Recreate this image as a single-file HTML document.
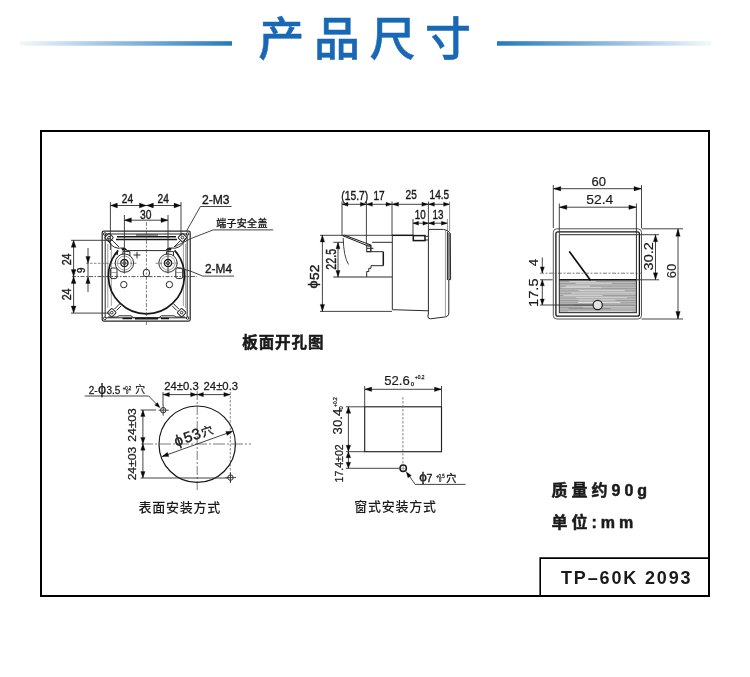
<!DOCTYPE html>
<html lang="zh-CN"><head><meta charset="utf-8"><title>产品尺寸</title>
<style>
html,body{margin:0;padding:0;background:#fff;}
body{width:750px;height:677px;overflow:hidden;position:relative;font-family:"Liberation Sans","Noto Sans CJK SC",sans-serif;}
svg{position:absolute;left:0;top:0;display:block;will-change:transform;}
svg text{font-family:"Liberation Sans","Noto Sans CJK SC",sans-serif;fill:#1a1a1a;}
.n{stroke:#1a1a1a;stroke-width:0.4px;}
.m{fill:none;stroke:#2a2a2a;stroke-width:1;}
.h{fill:none;stroke:#161616;stroke-width:1.5;}
.c2{fill:none;stroke:#2a2a2a;stroke-width:0.8;stroke-dasharray:4 1.5 1.5 1.5;}
.mb{fill:none;stroke:#1a1a1a;stroke-width:1.4;}
.d{fill:none;stroke:#303030;stroke-width:0.9;}
.c{fill:none;stroke:#444;stroke-width:0.7;stroke-dasharray:4 1.5 2 1.5;}
.d2{fill:none;stroke:#777;stroke-width:0.8;}
.dash{fill:none;stroke:#555;stroke-width:0.7;stroke-dasharray:2.5 1.5;}
.a{fill:#0a0a0a;stroke:#0a0a0a;stroke-width:0.3;stroke-linejoin:miter;}
.g{fill:none;stroke:#777;stroke-width:0.7;}
.b{font-weight:700;}
.l2{stroke:#1a1a1a;stroke-width:0.18px;}
.l{stroke:#1a1a1a;stroke-width:0.25px;}
</style></head><body>
<svg width="750" height="677" viewBox="0 0 750 677">
<defs>
<linearGradient id="gl" x1="0" y1="0" x2="1" y2="0"><stop offset="0" stop-color="#f3f8fc"/><stop offset="1" stop-color="#2378c2"/></linearGradient>
<linearGradient id="gr" x1="0" y1="0" x2="1" y2="0"><stop offset="0" stop-color="#2378c2"/><stop offset="1" stop-color="#f3f8fc"/></linearGradient>
<pattern id="hatch" width="4" height="2.4" patternUnits="userSpaceOnUse"><rect width="4" height="2.4" fill="#bcbcbc"/><rect y="0" width="4" height="1" fill="#989898"/></pattern>
</defs>
<rect class="x" x="20" y="41.2" width="212" height="4.5" fill="url(#gl)"/>
<rect class="x" x="497" y="41.2" width="214" height="4.5" fill="url(#gr)"/>
<text x="258.3" y="55" font-size="46" font-weight="500" letter-spacing="9.6" style="fill:#1868b6;stroke:#1868b6;stroke-width:0.5px">产品尺寸</text>
<rect class="x" x="41" y="131" width="668" height="465" fill="none" stroke="#000" stroke-width="2"/>
<path class="x" d="M540.2 596V558.1H709" fill="none" stroke="#000" stroke-width="1.6"/>
<text x="561" y="584.2" font-size="18" font-weight="700" letter-spacing="1.85">TP–60K 2093</text>
<text x="551.5" y="496" font-size="16" font-weight="700" letter-spacing="4" style="stroke:#1a1a1a;stroke-width:0.5px">质量约90g</text>
<text x="551.5" y="528" font-size="16" font-weight="700" letter-spacing="4" style="stroke:#1a1a1a;stroke-width:0.5px">单位:mm</text>
<text x="242.2" y="347.6" font-size="15.5" font-weight="700" letter-spacing="0.95" style="stroke:#111;stroke-width:0.45px">板面开孔图</text>
<text x="138.4" y="512.2" font-size="13" font-weight="500" letter-spacing="0.75">表面安装方式</text>
<text x="354.2" y="511" font-size="13" font-weight="500" letter-spacing="0.75">窗式安装方式</text>
<rect class="h" x="102.2" y="231.2" width="88" height="89.8" rx="1.5" style="stroke-width:1.25;stroke:#2a2a2a"/>
<rect class="m" x="105.2" y="234" width="82" height="83.8" rx="1"/>
<line class="g" x1="111.3" y1="243" x2="111.3" y2="306"/>
<line class="g" x1="183.4" y1="243" x2="183.4" y2="306"/>
<line class="g" x1="107.8" y1="244" x2="107.8" y2="308"/>
<line class="g" x1="185.6" y1="244" x2="185.6" y2="308"/>
<circle class="m" cx="104.8" cy="234" r="1.3"/>
<circle class="m" cx="187.6" cy="234" r="1.3"/>
<circle class="m" cx="104.8" cy="318.4" r="1.3"/>
<circle class="m" cx="187.6" cy="318" r="1.3"/>
<path class="h" d="M118.2 250.4 A38 38 0 1 0 174.6 250.4" style="stroke-width:1.7"/>
<path class="h" d="M117 236.8 H176 M116 239.4 H177"/>
<path class="m" d="M136 235 H158"/>
<path class="m" d="M107.5 238 Q110 247 118 248.2 L121 248 Q124.4 247 127 250.6 H166 Q168.5 247 172 248 L175 248.2 Q183 247 185.5 238"/>
<path class="m" d="M112 240 L119 247 M181 240 L174 247"/>
<path class="x" d="M121.5 248.3 Q124.4 246.5 127.5 250.2 L122 250.5 Z M171.5 248.3 Q168.4 246.5 165.3 250.2 L171 250.5 Z" fill="#1a1a1a"/>
<path class="x" d="M114.5 254 L117.8 251 L118 255 Z" fill="#1a1a1a"/>
<rect class="m" x="105.8" y="234.4" width="6.4" height="6.4" rx="1" transform="rotate(45 109 237.6)"/>
<circle class="m" cx="109" cy="237.6" r="1.3"/>
<rect class="m" x="179.2" y="234.4" width="6.4" height="6.4" rx="1" transform="rotate(45 182.4 237.6)"/>
<circle class="m" cx="182.4" cy="237.6" r="1.3"/>
<rect class="m" x="108.6" y="309.4" width="6.4" height="6.4" rx="1" transform="rotate(45 111.8 312.6)"/>
<circle class="m" cx="111.8" cy="312.6" r="1.3"/>
<rect class="m" x="178.4" y="309.4" width="6.4" height="6.4" rx="1" transform="rotate(45 181.6 312.6)"/>
<circle class="m" cx="181.6" cy="312.6" r="1.3"/>
<path class="m" d="M114.5 309 L119.5 304 M116.5 310.5 L121 306 M178.8 309 L173.8 304 M176.8 310.5 L172.3 306"/>
<path class="m" d="M108 317 H117 L119 315.8 H131 L133.5 317.6 H159 L161.5 315.8 H174 L176 317 H185"/>
<path class="h" d="M122.5 318.4 H132 M135 318.8 H158 M161 318.4 H169"/>
<circle class="m" cx="124.4" cy="263.1" r="9.2"/>
<circle class="g" cx="124.4" cy="263.1" r="7"/>
<circle class="h" cx="124.4" cy="263.1" r="3.6" style="stroke-width:1.3"/>
<circle class="m" cx="124.4" cy="263.1" r="1.5"/>
<path class="m" d="M122.9 254.3 V251.6 H129.9 V256"/>
<line class="d" x1="124.4" y1="250" x2="124.4" y2="273.5"/>
<circle class="m" cx="168" cy="263.1" r="9.2"/>
<circle class="g" cx="168" cy="263.1" r="7"/>
<circle class="h" cx="168" cy="263.1" r="3.6" style="stroke-width:1.3"/>
<circle class="m" cx="168" cy="263.1" r="1.5"/>
<path class="m" d="M166.5 254.3 V251.6 H173.5 V256"/>
<line class="d" x1="168" y1="250" x2="168" y2="273.5"/>
<path class="m" d="M133.5 255 H140.5 M137 251.8 V258.4"/>
<ellipse class="m" cx="146.4" cy="273" rx="3.2" ry="3.9"/>
<circle class="m" cx="123.8" cy="284.6" r="3.2"/>
<circle class="m" cx="169.4" cy="284.6" r="3.2"/>
<rect class="m" x="110.4" y="268" width="6.6" height="10.6" rx="1.8"/>
<rect class="m" x="175.8" y="268" width="6.8" height="10.6" rx="1.8"/>
<line class="g" x1="110.4" y1="272.5" x2="117" y2="272.5"/>
<line class="g" x1="175.8" y1="272.5" x2="182.6" y2="272.5"/>
<line class="c" x1="146.4" y1="222" x2="146.4" y2="325"/>
<line class="c2" x1="72" y1="276.6" x2="197" y2="276.6"/>
<line class="dash" x1="86" y1="263.3" x2="137" y2="263.3"/>
<line class="dash" x1="155.5" y1="263.3" x2="178" y2="263.3"/>
<line class="d" x1="110.4" y1="205.5" x2="146.4" y2="205.5"/>
<polygon class="a" points="110.4,205.5 117.4,203.09 117.4,207.91"/>
<polygon class="a" points="146.4,205.5 139.4,207.91 139.4,203.09"/>
<line class="d" x1="146.4" y1="205.5" x2="181" y2="205.5"/>
<polygon class="a" points="146.4,205.5 153.4,203.09 153.4,207.91"/>
<polygon class="a" points="181,205.5 174,207.91 174,203.09"/>
<line class="d" x1="110.4" y1="202" x2="110.4" y2="250"/>
<line class="d" x1="181" y1="202" x2="181" y2="236"/>
<line class="d" x1="124.4" y1="220.2" x2="168" y2="220.2"/>
<polygon class="a" points="124.4,220.2 131.4,217.78 131.4,222.61"/>
<polygon class="a" points="168,220.2 161,222.61 161,217.78"/>
<line class="d" x1="124.4" y1="215" x2="124.4" y2="252"/>
<line class="d" x1="168" y1="215" x2="168" y2="252"/>
<text class="n" transform="translate(127.5 203.1) scale(0.81 1)" font-size="12.6" text-anchor="middle">24</text>
<text class="n" transform="translate(163.2 203.1) scale(0.81 1)" font-size="12.6" text-anchor="middle">24</text>
<text class="n" transform="translate(145.7 218.8) scale(0.76 1)" font-size="13.6" text-anchor="middle">30</text>
<line class="d" x1="73.6" y1="240.3" x2="73.6" y2="276.6"/>
<polygon class="a" points="73.6,240.3 76.02,247.3 71.18,247.3"/>
<polygon class="a" points="73.6,276.6 71.18,269.6 76.02,269.6"/>
<line class="d" x1="73.6" y1="276.6" x2="73.6" y2="313.1"/>
<polygon class="a" points="73.6,276.6 76.02,283.6 71.18,283.6"/>
<polygon class="a" points="73.6,313.1 71.18,306.1 76.02,306.1"/>
<line class="d" x1="71" y1="240.3" x2="112" y2="240.3"/>
<line class="d" x1="71" y1="313.1" x2="110" y2="313.1"/>
<text class="n" transform="translate(71.1 259.4) rotate(-90) scale(0.85 1)" font-size="12.6" text-anchor="middle">24</text>
<text class="n" transform="translate(71.1 294.4) rotate(-90) scale(0.85 1)" font-size="12.6" text-anchor="middle">24</text>
<line class="d" x1="88" y1="248" x2="88" y2="292"/>
<polygon class="a" points="88,263.3 85.81,256.5 90.19,256.5"/>
<polygon class="a" points="88,276.6 90.19,283.4 85.81,283.4"/>
<text class="n" transform="translate(85.2 270.3) rotate(-90) scale(0.85 1)" font-size="11.5" text-anchor="middle">9</text>
<path class="d" d="M186.5 231 L200.4 206.5 H231.6"/>
<path class="d" d="M175 246.6 L190.8 238.6 L213.2 229.9 H273.2"/>
<path class="d" d="M177 267.5 Q190 270 202.8 276.1 H234"/>
<text class="n" transform="translate(201.9 204) scale(0.9 1)" font-size="13.5" text-anchor="start">2-M3</text>
<text class="n" transform="translate(205 273) scale(0.88 1)" font-size="13.5" text-anchor="start">2-M4</text>
<text class="l" transform="translate(216.2 227.2)" font-size="10" text-anchor="start" letter-spacing="0.3" font-weight="500">端子安全盖</text>
<line class="d" x1="342" y1="204.3" x2="366.4" y2="204.3"/>
<polygon class="a" points="342,204.3 348,202.23 348,206.37"/>
<polygon class="a" points="366.4,204.3 360.4,206.37 360.4,202.23"/>
<line class="d" x1="366.4" y1="204.3" x2="392" y2="204.3"/>
<polygon class="a" points="366.4,204.3 372.4,202.23 372.4,206.37"/>
<polygon class="a" points="392,204.3 386,206.37 386,202.23"/>
<line class="d" x1="392" y1="204.3" x2="428.4" y2="204.3"/>
<polygon class="a" points="392,204.3 398.5,202.23 398.5,206.37"/>
<polygon class="a" points="428.4,204.3 421.9,206.37 421.9,202.23"/>
<line class="d" x1="428.4" y1="204.3" x2="449.6" y2="204.3"/>
<polygon class="a" points="428.4,204.3 434.4,202.23 434.4,206.37"/>
<polygon class="a" points="449.6,204.3 443.6,206.37 443.6,202.23"/>
<line class="d" x1="413" y1="223.2" x2="428.4" y2="223.2"/>
<polygon class="a" points="413,223.2 418.5,221.24 418.5,225.16"/>
<polygon class="a" points="428.4,223.2 422.9,225.16 422.9,221.24"/>
<line class="d" x1="428.4" y1="223.2" x2="447.4" y2="223.2"/>
<polygon class="a" points="428.4,223.2 434.4,221.24 434.4,225.16"/>
<polygon class="a" points="447.4,223.2 441.4,225.16 441.4,221.24"/>
<line class="d" x1="342" y1="201.5" x2="342" y2="236"/>
<line class="d" x1="366.4" y1="201.5" x2="366.4" y2="246"/>
<line class="d" x1="392" y1="201.5" x2="392" y2="236"/>
<line class="d" x1="428.4" y1="201.5" x2="428.4" y2="230"/>
<line class="d2" x1="449.6" y1="201.5" x2="449.6" y2="231"/>
<line class="d" x1="413" y1="219" x2="413" y2="236"/>
<line class="d2" x1="447.4" y1="219" x2="447.4" y2="231"/>
<text class="n" transform="translate(354.7 199.6) scale(0.82 1)" font-size="12.6" text-anchor="middle">(15.7)</text>
<text class="n" transform="translate(379 199.6) scale(0.8 1)" font-size="12.6" text-anchor="middle">17</text>
<text class="n" transform="translate(411.2 199.4) scale(0.8 1)" font-size="12.6" text-anchor="middle">25</text>
<text class="n" transform="translate(439.4 199.4) scale(0.8 1)" font-size="12.6" text-anchor="middle">14.5</text>
<text class="n" transform="translate(420.2 219.3) scale(0.78 1)" font-size="12.6" text-anchor="middle">10</text>
<text class="n" transform="translate(438 219.3) scale(0.78 1)" font-size="12.6" text-anchor="middle">13</text>
<line class="d" x1="320" y1="235.3" x2="392" y2="235.3"/>
<line class="h" x1="392" y1="235.3" x2="413" y2="235.3"/>
<line class="d" x1="320" y1="311.4" x2="392" y2="311.4"/>
<path class="m" d="M392.3 235 V309.7 L428.4 310.8"/>
<rect class="h" x="413.3" y="235.6" width="11.7" height="5"/>
<path class="m" d="M425 236.3 H428 M425 240 H428"/>
<path class="x" d="M447.4 233 H450.4 V279.6 H447.4 Z" fill="#8a8a8a"/>
<path class="m" d="M428.4 231 Q428.4 229.4 430 229.4 L443.6 229.4 Q448.5 230 450.3 233.5 L450.6 279.6 H448.8 V314 Q448 316.5 445.4 316.9 L430.5 318.8 Q428 318.8 428 317 V314.4 H428.4 Z"/>
<line class="g" x1="445.4" y1="230" x2="445.4" y2="316.8"/>
<line class="m" x1="447.4" y1="231.5" x2="447.4" y2="280"/>
<path class="x" d="M342.7 235.7 L369.5 246.5 L370.3 244.8 L344.5 235.2 Z" fill="#fff" stroke="#1a1a1a" stroke-width="1"/>
<path class="m" d="M372 242.3 H392 M366.7 251.7 H383.3 M383.3 265.7 H371 V268.3 H368.8 V271.5 H366.7 V277"/>
<line class="h" x1="383.3" y1="251.7" x2="383.3" y2="265.7"/>
<rect class="m" x="366.7" y="245" width="4" height="6.7"/>
<path class="m" d="M367 248.3 H373.5 M371 245 V251.5"/>
<path class="d" d="M343.2 238 Q343.5 256 348.5 264.5"/>
<line class="d" x1="322.4" y1="235" x2="322.4" y2="311.4"/>
<polygon class="a" points="322.4,235 324.58,242 320.21,242"/>
<polygon class="a" points="322.4,311.4 320.21,304.4 324.58,304.4"/>
<text class="n" transform="translate(319 279.9) rotate(-90) scale(1.08 1)" font-size="12.6" text-anchor="start">52</text>
<text class="n" transform="translate(316.6 288.4) rotate(-90) scale(1.12 1)" font-size="12.8" text-anchor="start">ϕ</text>
<line class="d" x1="333.3" y1="242.3" x2="344" y2="242.3"/>
<line class="m" x1="333.3" y1="277" x2="392" y2="277"/>
<line class="d" x1="338" y1="242.3" x2="338" y2="277"/>
<polygon class="a" points="338,242.3 340.07,248.8 335.93,248.8"/>
<polygon class="a" points="338,277 335.93,270.5 340.07,270.5"/>
<text class="n" transform="translate(335.8 259.3) rotate(-90) scale(0.76 1)" font-size="14" text-anchor="middle">22.5</text>
<rect class="m" x="553.3" y="228.8" width="88.2" height="90.2" rx="3.5" style="stroke:#555"/>
<rect class="h" x="555.9" y="231.8" width="83.5" height="84.4" rx="2" style="stroke-width:1.3"/>
<rect class="x" x="559.3" y="279.8" width="77.1" height="33" fill="url(#hatch)"/>
<rect x="569.21" y="281.2" width="26.79" height="0.9" fill="#dadada"/>
<rect x="575.58" y="282.81" width="36.46" height="0.9" fill="#dadada"/>
<rect x="565.94" y="285.67" width="23.87" height="0.9" fill="#e4e4e4"/>
<rect x="562.22" y="287.28" width="39.1" height="0.9" fill="#dadada"/>
<rect x="578.42" y="290.2" width="46.23" height="0.9" fill="#dadada"/>
<rect x="571.4" y="292.56" width="63.93" height="0.9" fill="#dadada"/>
<rect x="563.5" y="294.9" width="38.86" height="0.9" fill="#dadada"/>
<rect x="576.31" y="297.26" width="50.69" height="0.9" fill="#dadada"/>
<rect x="578.67" y="299.63" width="36.76" height="0.9" fill="#dadada"/>
<rect x="578.07" y="301.98" width="42.34" height="0.9" fill="#e4e4e4"/>
<rect x="573.47" y="304.64" width="61.55" height="0.9" fill="#8a8a8a"/>
<rect x="583.33" y="306.59" width="51.45" height="0.9" fill="#d0d0d0"/>
<rect x="568.51" y="308.21" width="42.28" height="0.9" fill="#8a8a8a"/>
<rect x="568.14" y="310.81" width="64.11" height="0.9" fill="#dadada"/>
<rect class="m" x="559.3" y="234.7" width="77.1" height="78"/>
<line class="h" x1="559.3" y1="279.8" x2="636.4" y2="279.8"/>
<line class="x" x1="569.7" y1="252" x2="590.1" y2="279.8" stroke="#111" stroke-width="1.7" stroke-linecap="round"/>
<circle class="x" cx="597.7" cy="305" r="4.6" fill="#e4e4e4" stroke="#222" stroke-width="1.2"/>
<line class="c" x1="540" y1="273.2" x2="641" y2="273.2"/>
<line class="d" x1="553.3" y1="188.7" x2="641.5" y2="188.7"/>
<polygon class="a" points="553.3,188.7 560.8,186.51 560.8,190.88"/>
<polygon class="a" points="641.5,188.7 634,190.88 634,186.51"/>
<line class="d" x1="553.3" y1="185" x2="553.3" y2="228"/>
<line class="d" x1="641.5" y1="185" x2="641.5" y2="228"/>
<line class="d" x1="559.3" y1="207.2" x2="636.4" y2="207.2"/>
<polygon class="a" points="559.3,207.2 566.8,205.01 566.8,209.38"/>
<polygon class="a" points="636.4,207.2 628.9,209.38 628.9,205.01"/>
<line class="d" x1="559.3" y1="203.5" x2="559.3" y2="234"/>
<line class="d" x1="636.4" y1="203.5" x2="636.4" y2="234"/>
<text class="l2" transform="translate(598.8 186.2) scale(1.03 1)" font-size="12.6" text-anchor="middle">60</text>
<text class="l2" transform="translate(599.7 204) scale(1.1 1)" font-size="12.6" text-anchor="middle">52.4</text>
<line class="d" x1="678" y1="228.8" x2="678" y2="319"/>
<polygon class="a" points="678,228.8 680.18,236.3 675.82,236.3"/>
<polygon class="a" points="678,319 675.82,311.5 680.18,311.5"/>
<line class="d" x1="641.5" y1="228.8" x2="683" y2="228.8"/>
<line class="d" x1="641.5" y1="319" x2="683" y2="319"/>
<text class="l2" transform="translate(675.8 271) rotate(-90) scale(1.02 1)" font-size="12.6" text-anchor="middle">60</text>
<line class="d" x1="655.5" y1="234.7" x2="655.5" y2="279.8"/>
<polygon class="a" points="655.5,234.7 657.68,241.7 653.32,241.7"/>
<polygon class="a" points="655.5,279.8 653.32,272.8 657.68,272.8"/>
<line class="d" x1="636.4" y1="234.7" x2="659" y2="234.7"/>
<line class="d" x1="636.4" y1="279.8" x2="659" y2="279.8"/>
<text class="l2" transform="translate(652.8 256.3) rotate(-90) scale(1.15 1)" font-size="12.6" text-anchor="middle">30.2</text>
<line class="d" x1="542.3" y1="257.5" x2="542.3" y2="272.9"/>
<polygon class="a" points="542.3,272.9 540.23,266.9 544.37,266.9"/>
<line class="d" x1="542.3" y1="279.8" x2="542.3" y2="305"/>
<polygon class="a" points="542.3,279.8 544.37,285.8 540.23,285.8"/>
<polygon class="a" points="542.3,305 540.23,299 544.37,299"/>
<line class="d" x1="540" y1="279.8" x2="552.5" y2="279.8"/>
<line class="d" x1="540" y1="305" x2="593" y2="305"/>
<text class="l2" transform="translate(537.5 262.6) rotate(-90) scale(1.05 1)" font-size="12.6" text-anchor="middle">4</text>
<text class="l2" transform="translate(537.5 292.7) rotate(-90) scale(1.16 1)" font-size="12.6" text-anchor="middle">17.5</text>
<circle class="h" cx="197.2" cy="444.2" r="38.2" style="stroke-width:1.2"/>
<line class="c" x1="197.2" y1="391" x2="197.2" y2="490" style="stroke-dasharray:9 2 2 2"/>
<line class="c" x1="141" y1="444" x2="251" y2="444" style="stroke-dasharray:12 2 2 2"/>
<line class="d" x1="163" y1="394.6" x2="197" y2="394.6"/>
<polygon class="a" points="163,394.6 169.4,392.42 169.4,396.79"/>
<polygon class="a" points="197,394.6 190.6,396.79 190.6,392.42"/>
<line class="d" x1="197" y1="394.6" x2="230.3" y2="394.6"/>
<polygon class="a" points="197,394.6 203.4,392.42 203.4,396.79"/>
<polygon class="a" points="230.3,394.6 223.9,396.79 223.9,392.42"/>
<line class="d" x1="163" y1="392" x2="163" y2="405"/>
<line class="dash" x1="230.3" y1="392" x2="230.3" y2="483"/>
<circle class="m" cx="163.2" cy="410.2" r="2.7"/>
<line class="d" x1="158.5" y1="410.2" x2="168.7" y2="410.2"/>
<line class="d" x1="163.2" y1="405" x2="163.2" y2="415.7"/>
<circle class="m" cx="230.5" cy="477.6" r="2.7"/>
<line class="d" x1="225.5" y1="477.6" x2="236" y2="477.6"/>
<line class="d" x1="230.5" y1="472.5" x2="230.5" y2="483"/>
<line class="d" x1="142.9" y1="410" x2="142.9" y2="443.8"/>
<polygon class="a" points="142.9,410 145.09,416.4 140.72,416.4"/>
<polygon class="a" points="142.9,443.8 140.72,437.4 145.09,437.4"/>
<line class="d" x1="142.9" y1="443.8" x2="142.9" y2="478"/>
<polygon class="a" points="142.9,443.8 145.09,450.2 140.72,450.2"/>
<polygon class="a" points="142.9,478 140.72,471.6 145.09,471.6"/>
<line class="d" x1="140.5" y1="410" x2="156" y2="410"/>
<line class="d" x1="140.5" y1="478" x2="228" y2="478"/>
<path class="d" d="M84.7 396 H148.7 L159 406.7"/>
<polygon class="a" points="160,407.7 154.73,405.19 157.49,402.43"/>
<text class="l" transform="translate(88.7 393.8) scale(0.95 1)" font-size="10.5" text-anchor="start">2-</text>
<text class="l" transform="translate(98.1 393.6)" font-size="14.5" text-anchor="start">ϕ</text>
<text class="l" transform="translate(106.5 393.8) scale(0.95 1)" font-size="10.5" text-anchor="start">3.5</text>
<text class="l" transform="translate(122.7 389.8) scale(0.95 1)" font-size="4.6" text-anchor="start">+0.2</text>
<text class="l" transform="translate(126 394) scale(0.9 1)" font-size="4.6" text-anchor="start">0</text>
<text class="l" transform="translate(135.2 393.2)" font-size="9.8" text-anchor="start">穴</text>
<text class="l" transform="translate(181.4 390.4) scale(1.03 1)" font-size="11" text-anchor="middle">24±0.3</text>
<text class="l" transform="translate(220.8 390.4) scale(1.03 1)" font-size="11" text-anchor="middle">24±0.3</text>
<text class="l" transform="translate(135.7 425) rotate(-90) scale(1.1 1)" font-size="11" text-anchor="middle">24±03</text>
<text class="l" transform="translate(135.7 463.6) rotate(-90) scale(1.1 1)" font-size="11" text-anchor="middle">24±03</text>
<line class="d" x1="162" y1="456.6" x2="232.6" y2="431.3"/>
<polygon class="a" points="162,456.6 167.38,452.35 168.86,456.47"/>
<polygon class="a" points="232.6,431.3 227.22,435.55 225.74,431.43"/>
<text class="n" transform="translate(195.2 439.8) rotate(-19.7)" font-size="15" text-anchor="middle" letter-spacing="0.3"><tspan font-size="15">ϕ</tspan><tspan dx="1.4">53</tspan><tspan font-size="11.5" dx="1">穴</tspan></text>
<rect class="mb" x="364.7" y="406.8" width="76.8" height="44.9" style="stroke-width:1.15;stroke:#222"/>
<line class="d" x1="364.7" y1="389.3" x2="441.5" y2="389.3"/>
<polygon class="a" points="364.7,389.3 371.7,387.12 371.7,391.49"/>
<polygon class="a" points="441.5,389.3 434.5,391.49 434.5,387.12"/>
<line class="d" x1="364.7" y1="386" x2="364.7" y2="407"/>
<line class="d" x1="441.5" y1="386" x2="441.5" y2="407"/>
<line class="dash" x1="402.9" y1="397" x2="402.9" y2="464"/>
<circle class="mb" cx="403.2" cy="468.3" r="3.2" style="stroke-width:1.5"/>
<line class="g" x1="401" y1="468.3" x2="405.4" y2="468.3"/>
<line class="g" x1="403.2" y1="466" x2="403.2" y2="470.6"/>
<line class="d" x1="348.4" y1="406.8" x2="348.4" y2="468.3"/>
<polygon class="a" points="348.4,406.8 350.7,413.3 346.1,413.3"/>
<polygon class="a" points="348.4,451.7 346.1,445.2 350.7,445.2"/>
<polygon class="a" points="348.4,451.7 350.7,457.7 346.1,457.7"/>
<polygon class="a" points="348.4,468.3 346.1,462.3 350.7,462.3"/>
<line class="d" x1="346" y1="406.8" x2="365" y2="406.8"/>
<line class="d" x1="346" y1="451.7" x2="365" y2="451.7"/>
<line class="d" x1="346" y1="468.3" x2="399.5" y2="468.3"/>
<path class="d" d="M407.5 473.5 L415.2 484.4 H465.6"/>
<polygon class="a" points="406.2,471.7 411.34,475.43 407.95,477.8"/>
<text class="l2" transform="translate(384.2 385) scale(1.01 1)" font-size="13" text-anchor="start">52.6</text>
<text class="l" transform="translate(410.8 386)" font-size="6" text-anchor="start">0</text>
<text class="l" transform="translate(414.8 379.4) scale(0.8 1)" font-size="6.2" text-anchor="start">+0.2</text>
<text class="l2" transform="translate(342.2 434.4) rotate(-90) scale(1.03 1)" font-size="12.8" text-anchor="start">30.4</text>
<text class="l" transform="translate(343 409.6) rotate(-90)" font-size="6" text-anchor="start">0</text>
<text class="l" transform="translate(337 407) rotate(-90) scale(0.8 1)" font-size="6.2" text-anchor="start">+0.2</text>
<text class="l" transform="translate(343.3 482.5) rotate(-90) scale(0.98 1)" font-size="10.8" text-anchor="start">17.4±02</text>
<text class="n" transform="translate(419.2 480.6)" font-size="13.5" text-anchor="start">ϕ</text>
<text class="n" transform="translate(426.4 482.2) scale(0.9 1)" font-size="11.7" text-anchor="start">7</text>
<text class="l" transform="translate(436 477.6) scale(0.95 1)" font-size="4.6" text-anchor="start">+0.5</text>
<text class="l" transform="translate(439 482.2) scale(0.9 1)" font-size="4.6" text-anchor="start">0</text>
<text class="n" transform="translate(446.2 482)" font-size="10" text-anchor="start">穴</text>
</svg>
</body></html>
